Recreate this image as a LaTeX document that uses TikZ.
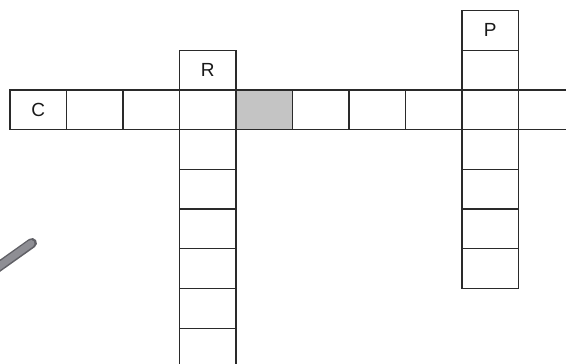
\documentclass[tikz,border=0pt]{standalone}
\usepackage{fontspec}
\setmainfont{Liberation Sans}
\definecolor{gridline}{HTML}{2A2A2A}
\definecolor{shade}{HTML}{C4C4C4}
\definecolor{pencil}{HTML}{8E8E94}
\definecolor{pencildark}{HTML}{606066}
\begin{document}
\begin{tikzpicture}[x=1pt,y=-1pt,
  cellbox/.style={draw=gridline, line width=1.25pt, rectangle, minimum width=56.5pt, minimum height=39.7pt, inner sep=0pt},
  shadedbox/.style={cellbox, fill=shade},
  letter/.style={inner sep=0pt, text=black!90, font=\fontsize{19}{22}\selectfont}]
\useasboundingbox (0,0) rectangle (566,364);
\clip (0,0) rectangle (566,364);
% across row
\foreach \i in {0,...,9} {
  \node[cellbox] (h\i) at ({38.25+56.5*\i},109.85) {};
}
\node[shadedbox] (h4s) at ({38.25+56.5*4},109.85) {};
\node[letter] (lc) at (h0) {C};
% R column
\foreach \k in {-1,...,6} {
  \node[cellbox] (r\k) at (207.75,{109.85+39.7*\k}) {};
}
\node[letter] (lr) at (r-1) {R};
% P column
\foreach \k in {-2,...,4} {
  \node[cellbox] (p\k) at (490.25,{109.85+39.7*\k}) {};
}
\node[letter] (lp) at (p-2) {P};
% pencil tip
\draw[pencildark, line width=10pt, line cap=round] (-6,270) -- (32,243);
\draw[pencil, line width=7pt, line cap=round] (-6,270) -- (31,243.5);
\end{tikzpicture}
\end{document}
